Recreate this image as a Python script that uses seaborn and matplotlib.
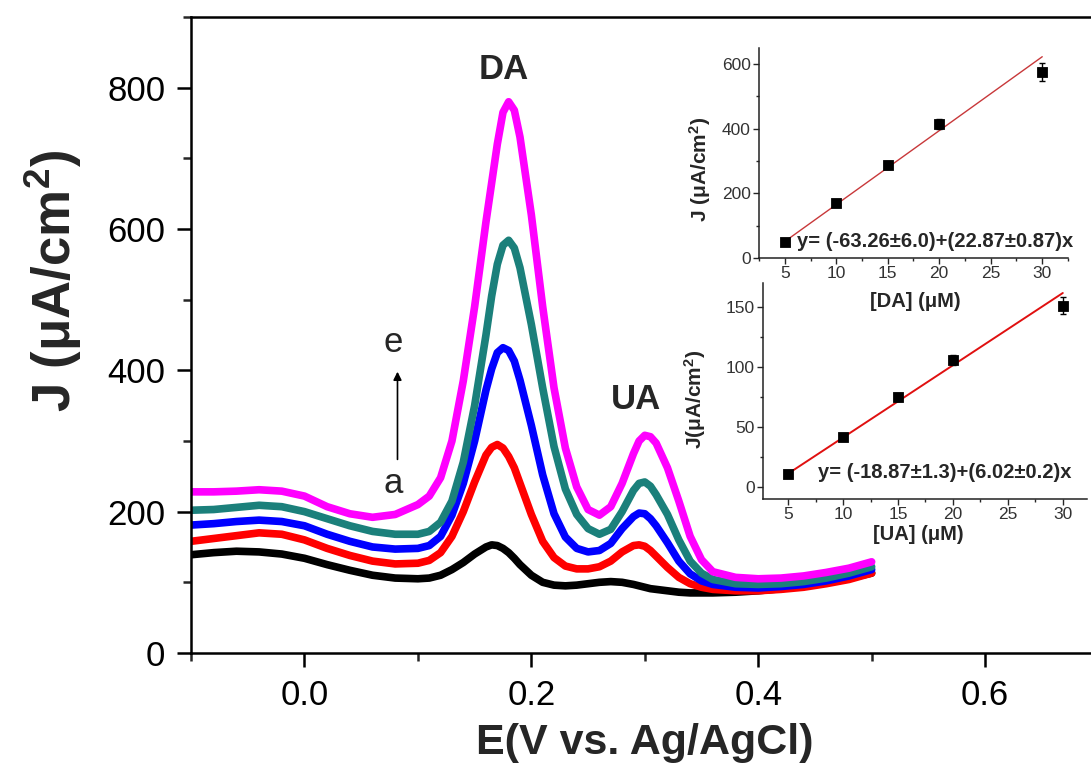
import matplotlib
matplotlib.use("Agg")
from matplotlib import pyplot as plt
from matplotlib.ticker import MultipleLocator
import pandas as pd
import seaborn as sns


# ----------------------------------------------------------------------
# DPV curves a..e  (J in uA/cm2 against E in V)
potential = [-0.10, -0.08, -0.06, -0.04, -0.02, 0.00, 0.02, 0.04, 0.06, 0.08,
             0.10, 0.11, 0.12, 0.13, 0.14, 0.15, 0.16, 0.165, 0.17, 0.175,
             0.18, 0.185, 0.19, 0.20, 0.21, 0.22, 0.23, 0.24, 0.25, 0.26,
             0.27, 0.28, 0.29, 0.295, 0.30, 0.305, 0.31, 0.32, 0.33, 0.34,
             0.35, 0.36, 0.38, 0.40, 0.42, 0.44, 0.46, 0.48, 0.50]

curve_a = [139, 142, 144, 143, 140, 134, 125, 117, 110, 106,
           105, 106, 110, 118, 128, 140, 150, 153, 152, 148,
           142, 134, 125, 110, 100, 96, 95, 96, 98, 100,
           101, 100, 97, 95, 93, 91, 90, 88, 86, 85,
           85, 85, 86, 88, 91, 95, 100, 106, 113]
curve_b = [158, 162, 166, 170, 168, 160, 148, 138, 130, 126,
           127, 131, 142, 165, 200, 242, 280, 291, 295, 290,
           278, 262, 240, 196, 158, 135, 123, 119, 119, 122,
           130, 143, 152, 153, 151, 145, 137, 121, 107, 98,
           93, 90, 88, 88, 90, 93, 98, 104, 113]
curve_c = [181, 183, 186, 188, 186, 180, 168, 158, 150, 147,
           148, 152, 165, 195, 240, 300, 372, 402, 425, 432,
           428, 413, 386, 322, 252, 197, 164, 148, 143, 145,
           155, 176, 193, 198, 197, 190, 180, 156, 130, 112,
           102, 97, 93, 92, 94, 97, 102, 109, 118]
curve_d = [202, 203, 206, 209, 207, 200, 190, 180, 172, 168,
           168, 172, 185, 215, 270, 350, 450, 505, 550, 577,
           584, 573, 545, 465, 375, 292, 232, 196, 176, 168,
           175, 200, 230, 240, 242, 236, 224, 196, 160, 130,
           113, 104, 98, 97, 98, 101, 106, 113, 122]
curve_e = [228, 228, 229, 231, 229, 222, 207, 197, 192, 196,
           210, 222, 248, 300, 385, 490, 610, 665, 720, 765,
           780, 768, 730, 620, 490, 375, 290, 235, 203, 195,
           207, 240, 282, 300, 308, 306, 297, 262, 215, 165,
           132, 115, 107, 105, 106, 109, 114, 120, 129]

curve_names = ["a", "b", "c", "d", "e"]
curve_colors = ["#000000", "#ff0000", "#0000ff", "#1b807b", "#ff00ff"]

# calibration insets
conc = [5, 10, 15, 20, 30]
da_current = [50, 170, 288, 415, 575]
da_err = [5, 7, 12, 16, 28]
ua_current = [11, 42, 75, 106, 151]
ua_err = [2, 2, 3, 4, 7]
fit_conc = [5, 30]
da_fit = [51, 623]
ua_fit = [11.2, 161.7]


sns.set_style("ticks")
plt.rcParams["font.family"] = ["Liberation Sans", "DejaVu Sans"]
plt.rcParams["mathtext.fontset"] = "custom"
plt.rcParams["mathtext.rm"] = "Liberation Sans"
plt.rcParams["mathtext.bf"] = "Liberation Sans:bold"
plt.rcParams["mathtext.default"] = "bf"

fig = plt.figure(figsize=(10.91, 7.78), dpi=100)

# ----------------------------------------------------------------------
# main panel
ax = fig.add_axes([0.1751, 0.1607, 0.8318, 0.8175])

curves = [curve_a, curve_b, curve_c, curve_d, curve_e]
df = pd.DataFrame({
    "E": potential * len(curves),
    "J": [j for c in curves for j in c],
    "curve": [n for n in curve_names for _ in potential],
})
sns.lineplot(data=df, x="E", y="J", hue="curve", hue_order=curve_names,
             palette=dict(zip(curve_names, curve_colors)), estimator=None,
             sort=False, lw=5.5, legend=False, ax=ax,
             solid_capstyle="round", solid_joinstyle="round")

ax.set_xlim(-0.1, 0.7)
ax.set_ylim(0, 900)
ax.set_xticks([0.0, 0.2, 0.4, 0.6])
ax.set_xticklabels(["0.0", "0.2", "0.4", "0.6"])
ax.set_yticks([0, 200, 400, 600, 800])
ax.xaxis.set_minor_locator(MultipleLocator(0.1))
ax.yaxis.set_minor_locator(MultipleLocator(100))
ax.tick_params(which="major", direction="out", length=10, width=1.8,
               labelsize=25, pad=8.5, colors="black")
ax.tick_params(which="minor", direction="out", length=6, width=1.8)
ax.tick_params(top=False, right=False, which="both")
for side in ["left", "bottom", "top"]:
    ax.spines[side].set_linewidth(1.8)
    ax.spines[side].set_color("black")
ax.spines["right"].set_visible(False)

ax.set_xlabel("E(V vs. Ag/AgCl)", fontsize=31, fontweight="bold")
ax.xaxis.set_label_coords(0.5, -0.11)
ax.set_ylabel("J (μA/cm$^2$)", fontsize=38, fontweight="bold")
ax.yaxis.set_label_coords(-0.118, 0.585)

ax.text(0.176, 825, "DA", fontsize=25, fontweight="bold", ha="center", va="center")
ax.text(0.292, 358, "UA", fontsize=25, fontweight="bold", ha="center", va="center")
ax.text(0.078, 240, "a", fontsize=25, ha="center", va="center")
ax.text(0.078, 440, "e", fontsize=25, ha="center", va="center")
ax.annotate("", xy=(0.082, 402), xytext=(0.082, 270),
            arrowprops=dict(arrowstyle="-|>", color="black", lw=1.2,
                            mutation_scale=12))


# ----------------------------------------------------------------------
def calib_inset(rect, y, yerr, fit, fit_color, fit_lw, ylim, ystep, xlim):
    ins = fig.add_axes(rect, facecolor="none")
    ins.errorbar(conc, y, yerr=yerr, fmt="none", ecolor="black",
                 elinewidth=1, capsize=2.5, capthick=1, zorder=2)
    sns.lineplot(x=fit_conc, y=fit, color=fit_color, lw=fit_lw, ax=ins, zorder=1)
    sns.scatterplot(x=conc, y=y, marker="s", color="black", s=55,
                    edgecolor="black", ax=ins, zorder=3)
    ins.set_xlim(*xlim)
    ins.set_ylim(*ylim)
    ins.set_xticks([5, 10, 15, 20, 25, 30])
    ins.xaxis.set_minor_locator(MultipleLocator(2.5))
    ins.yaxis.set_major_locator(MultipleLocator(ystep))
    ins.yaxis.set_minor_locator(MultipleLocator(ystep / 2))
    ins.tick_params(which="major", direction="out", length=4, width=1,
                    labelsize=12.5, pad=2, labelcolor="#333333")
    ins.tick_params(which="minor", direction="out", length=2.5, width=1)
    ins.spines["top"].set_visible(False)
    ins.spines["right"].set_visible(False)
    for side in ["left", "bottom"]:
        ins.spines[side].set_linewidth(1.1)
        ins.spines[side].set_color("#222222")
    return ins


ins_da = calib_inset([0.6957, 0.6684, 0.2832, 0.2699], da_current, da_err,
                     da_fit, "#c8383a", 1.0, (0, 650), 200, (2.5, 32.5))
ins_da.set_xlabel("[DA] (μM)", fontsize=14.5, fontweight="bold")
ins_da.xaxis.set_label_coords(0.505, -0.16)
ins_da.set_ylabel("J (μA/cm$^2$)", fontsize=15, fontweight="bold")
ins_da.yaxis.set_label_coords(-0.15, 0.42)
ins_da.text(6.2, 50, "y= (-63.26±6.0)+(22.87±0.87)x", fontsize=14.5,
            fontweight="bold", ha="left", va="center")

ins_ua = calib_inset([0.6993, 0.3586, 0.2970, 0.2776], ua_current, ua_err,
                     ua_fit, "#e01010", 1.4, (-10, 170), 50, (2.7, 32.2))
ins_ua.set_xlabel("[UA] (μM)", fontsize=14.5, fontweight="bold")
ins_ua.xaxis.set_label_coords(0.48, -0.12)
ins_ua.set_ylabel("J(μA/cm$^2$)", fontsize=15, fontweight="bold")
ins_ua.yaxis.set_label_coords(-0.17, 0.46)
ins_ua.text(7.7, 12, "y= (-18.87±1.3)+(6.02±0.2)x", fontsize=14.5,
            fontweight="bold", ha="left", va="center")

fig.savefig("out.png", dpi=100)
